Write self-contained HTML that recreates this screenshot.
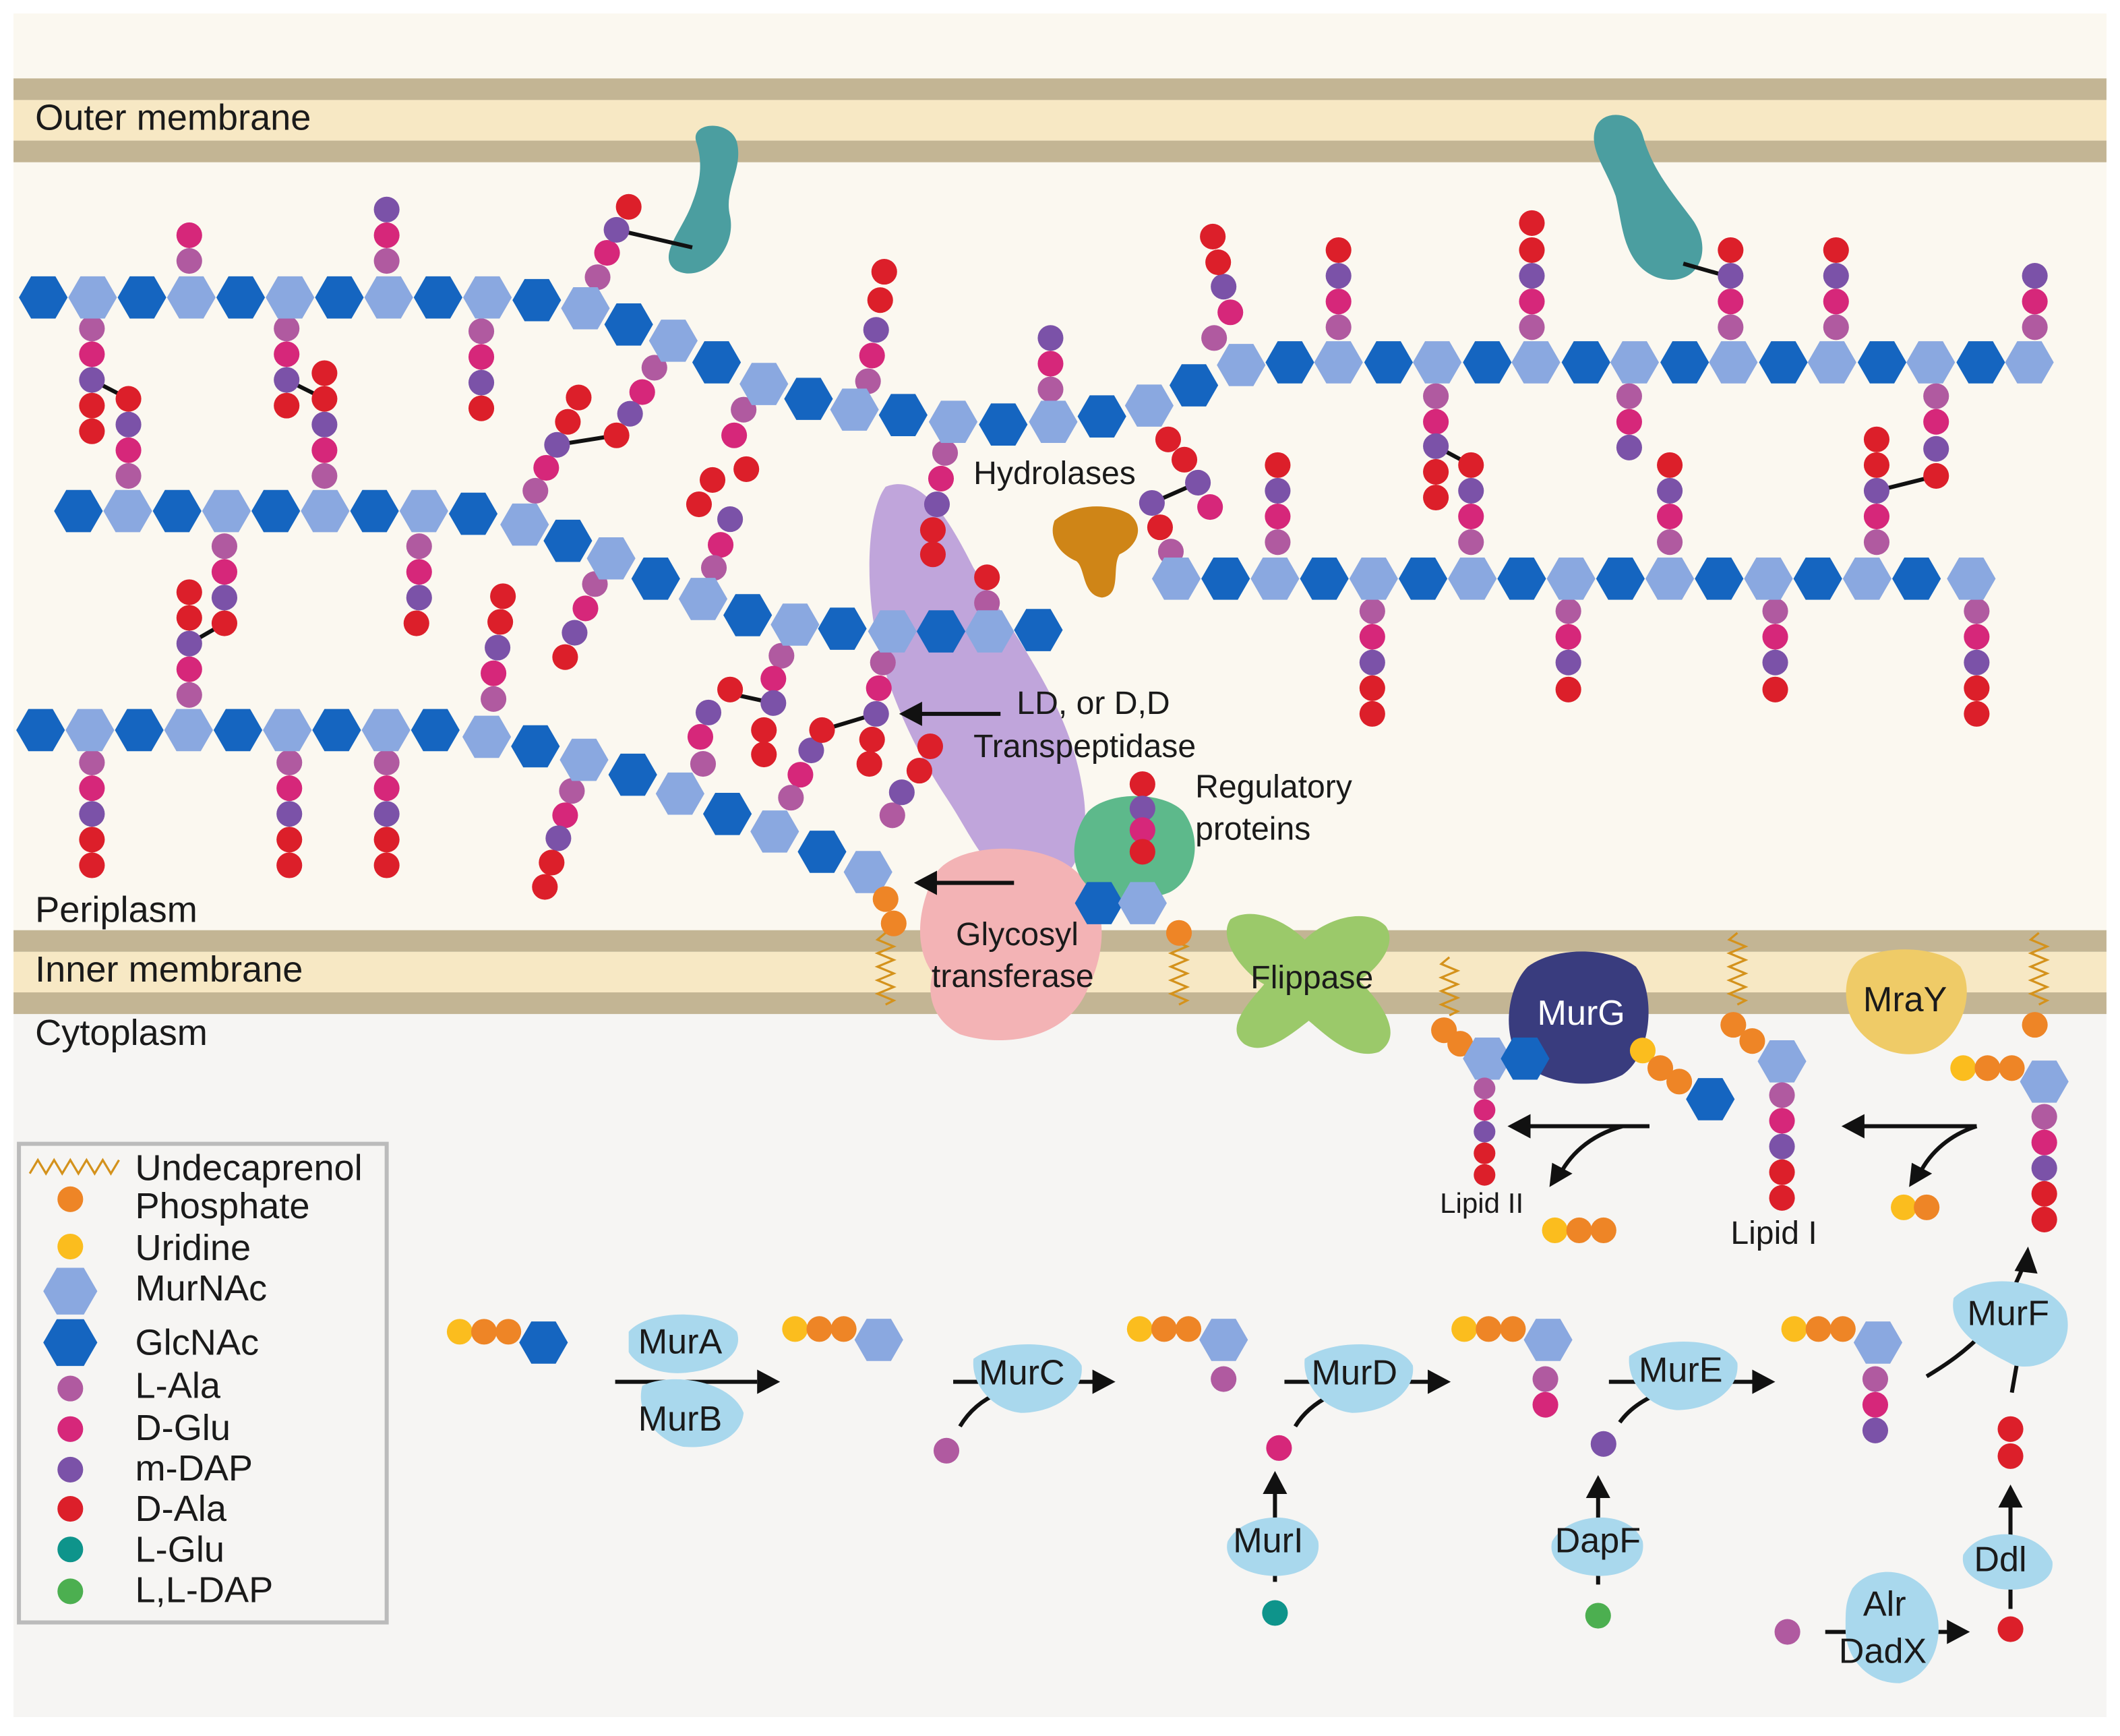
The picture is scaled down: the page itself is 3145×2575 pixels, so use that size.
<!DOCTYPE html>
<html><head><meta charset="utf-8"><style>html,body{margin:0;padding:0;background:#fff}svg{display:block}text{font-family:"Liberation Sans",sans-serif;fill:#1a1a1a}
.D{fill:#1565c0}.L{fill:#8aa8e0}.a{fill:#b05aa0}.g{fill:#d6277a}.m{fill:#7b52a8}.d{fill:#dc1f2a}.o{fill:#ee8526}.y{fill:#fbbd1e}.t{fill:#0e948b}.l{fill:#4caf50}
</style></head>
<body>
<svg width="3145" height="2575" viewBox="0 0 1568 1284" preserveAspectRatio="none" xmlns="http://www.w3.org/2000/svg" xmlns:xlink="http://www.w3.org/1999/xlink">
<defs>
<polygon id="h" points="18,0 9,15.6 -9,15.6 -18,0 -9,-15.6 9,-15.6"/>
<polygon id="h2" points="20,0 10,17.3 -10,17.3 -20,0 -10,-17.3 10,-17.3"/>
<circle id="c" r="9.5" cx="0" cy="0"/>
</defs>
<rect x="0" y="0" width="1568" height="1284" fill="#fff"/>
<rect x="10" y="10" width="1548" height="680" fill="#fbf8f0"/>
<rect x="10" y="745" width="1548" height="525" fill="#f6f5f3"/>
<rect x="10" y="58" width="1548" height="16" fill="#c3b594"/>
<rect x="10" y="74" width="1548" height="30" fill="#f7e8c4"/>
<rect x="10" y="104" width="1548" height="16" fill="#c3b594"/>
<rect x="10" y="688" width="1548" height="16" fill="#c3b594"/>
<rect x="10" y="704" width="1548" height="30" fill="#f7e8c4"/>
<rect x="10" y="734" width="1548" height="16" fill="#c3b594"/>

<!-- proteins -->
<path d="M515,105 C510,90 540,88 545,105 C550,125 535,140 540,160 C545,185 520,210 500,200 C485,190 505,170 512,150 C518,135 520,120 515,105Z" fill="#4b9ea0"/>
<path d="M1180,95 C1185,80 1210,82 1215,100 C1222,125 1235,140 1250,160 C1270,185 1255,215 1225,205 C1200,195 1200,165 1195,145 C1188,125 1175,110 1180,95Z" fill="#4b9ea0"/>
<path d="M655,360 C680,350 700,380 720,420 C750,470 790,520 800,580 C810,630 790,660 760,655 C730,650 720,620 700,590 C680,560 660,520 650,480 C640,440 640,380 655,360Z" fill="#b99bd8" opacity="0.9"/>
<path d="M690,650 C700,625 760,620 790,640 C820,660 820,700 805,730 C790,770 740,775 710,765 C690,755 685,735 690,720 C675,700 680,670 690,650Z" fill="#f3b3b5"/>
<path d="M805,600 C820,585 860,585 875,600 C890,620 885,650 865,660 C840,670 810,665 800,650 C790,635 795,612 805,600Z" fill="#5db98b"/>
<path d="M910,680 C925,670 950,680 965,695 C980,680 1010,670 1025,685 C1035,700 1015,720 1005,725 C1020,740 1040,765 1020,778 C1000,785 980,765 968,755 C955,765 935,782 920,772 C905,760 925,740 935,728 C920,720 900,695 910,680Z" fill="#9bc96a"/>
<path d="M780,385 C795,372 820,372 835,380 C848,390 840,405 828,410 C822,420 830,440 815,442 C800,440 803,420 796,415 C784,410 775,398 780,385Z" fill="#cf8517"/>
<path d="M1130,715 C1150,700 1190,700 1210,715 C1225,735 1222,780 1200,795 C1175,808 1140,800 1125,785 C1110,765 1115,730 1130,715Z" fill="#393c7e"/>
<path d="M1375,710 C1395,698 1435,700 1450,715 C1462,735 1450,770 1425,778 C1400,785 1375,770 1368,750 C1363,735 1365,718 1375,710Z" fill="#efcb67"/>

<!-- crosslinks -->
<g stroke="#111" stroke-width="3">
<line x1="68" y1="281" x2="95" y2="295"/><line x1="212" y1="281" x2="240" y2="295"/><line x1="140" y1="476" x2="166" y2="461"/>
<line x1="412" y1="329" x2="456" y2="322"/><line x1="540" y1="513" x2="572" y2="520"/><line x1="608" y1="540" x2="648" y2="528"/>
<line x1="1062" y1="330" x2="1088" y2="344"/><line x1="1388" y1="363" x2="1432" y2="352"/><line x1="456" y1="170" x2="512" y2="183"/>
<line x1="1245" y1="195" x2="1280" y2="205"/><line x1="852" y1="372" x2="886" y2="357"/>
</g>

<!-- stems -->
<g>
<use href="#c" x="68" y="243" class="a"/><use href="#c" x="68" y="262" class="g"/><use href="#c" x="68" y="281" class="m"/><use href="#c" x="68" y="300" class="d"/><use href="#c" x="68" y="319" class="d"/>
<use href="#c" x="95" y="352" class="a"/><use href="#c" x="95" y="333" class="g"/><use href="#c" x="95" y="314" class="m"/><use href="#c" x="95" y="295" class="d"/>
<use href="#c" x="212" y="243" class="a"/><use href="#c" x="212" y="262" class="g"/><use href="#c" x="212" y="281" class="m"/><use href="#c" x="212" y="300" class="d"/>
<use href="#c" x="240" y="352" class="a"/><use href="#c" x="240" y="333" class="g"/><use href="#c" x="240" y="314" class="m"/><use href="#c" x="240" y="295" class="d"/><use href="#c" x="240" y="276" class="d"/>
<use href="#c" x="356" y="245" class="a"/><use href="#c" x="356" y="264" class="g"/><use href="#c" x="356" y="283" class="m"/><use href="#c" x="356" y="302" class="d"/>
<use href="#c" x="140" y="193" class="a"/><use href="#c" x="140" y="174" class="g"/>
<use href="#c" x="286" y="193" class="a"/><use href="#c" x="286" y="174" class="g"/><use href="#c" x="286" y="155" class="m"/>
<use href="#c" x="166" y="404" class="a"/><use href="#c" x="166" y="423" class="g"/><use href="#c" x="166" y="442" class="m"/><use href="#c" x="166" y="461" class="d"/>
<use href="#c" x="310" y="404" class="a"/><use href="#c" x="310" y="423" class="g"/><use href="#c" x="310" y="442" class="m"/><use href="#c" x="308" y="461" class="d"/>
<use href="#c" x="140" y="514" class="a"/><use href="#c" x="140" y="495" class="g"/><use href="#c" x="140" y="476" class="m"/><use href="#c" x="140" y="457" class="d"/><use href="#c" x="140" y="438" class="d"/>
<use href="#c" x="365" y="517" class="a"/><use href="#c" x="365" y="498" class="g"/><use href="#c" x="368" y="479" class="m"/><use href="#c" x="370" y="460" class="d"/><use href="#c" x="372" y="441" class="d"/>
<use href="#c" x="68" y="564" class="a"/><use href="#c" x="68" y="583" class="g"/><use href="#c" x="68" y="602" class="m"/><use href="#c" x="68" y="621" class="d"/><use href="#c" x="68" y="640" class="d"/>
<use href="#c" x="214" y="564" class="a"/><use href="#c" x="214" y="583" class="g"/><use href="#c" x="214" y="602" class="m"/><use href="#c" x="214" y="621" class="d"/><use href="#c" x="214" y="640" class="d"/>
<use href="#c" x="286" y="564" class="a"/><use href="#c" x="286" y="583" class="g"/><use href="#c" x="286" y="602" class="m"/><use href="#c" x="286" y="621" class="d"/><use href="#c" x="286" y="640" class="d"/>
<use href="#c" x="442" y="205" class="a"/><use href="#c" x="449" y="187" class="g"/><use href="#c" x="456" y="170" class="m"/><use href="#c" x="465" y="153" class="d"/>
<use href="#c" x="396" y="363" class="a"/><use href="#c" x="404" y="346" class="g"/><use href="#c" x="412" y="329" class="m"/><use href="#c" x="420" y="312" class="d"/><use href="#c" x="428" y="294" class="d"/><use href="#c" x="456" y="322" class="d"/>
<use href="#c" x="484" y="272" class="a"/><use href="#c" x="475" y="290" class="g"/><use href="#c" x="466" y="306" class="m"/>
<use href="#c" x="550" y="303" class="a"/><use href="#c" x="543" y="322" class="g"/><use href="#c" x="552" y="347" class="d"/><use href="#c" x="527" y="355" class="d"/><use href="#c" x="517" y="373" class="d"/><use href="#c" x="540" y="384" class="m"/><use href="#c" x="533" y="403" class="g"/><use href="#c" x="528" y="420" class="a"/>
<use href="#c" x="642" y="282" class="a"/><use href="#c" x="645" y="263" class="g"/><use href="#c" x="648" y="244" class="m"/><use href="#c" x="651" y="222" class="d"/><use href="#c" x="654" y="201" class="d"/>
<use href="#c" x="699" y="335" class="a"/><use href="#c" x="696" y="354" class="g"/><use href="#c" x="693" y="373" class="m"/><use href="#c" x="690" y="392" class="d"/><use href="#c" x="690" y="410" class="d"/>
<use href="#c" x="777" y="288" class="a"/><use href="#c" x="777" y="269" class="g"/><use href="#c" x="777" y="250" class="m"/>
<use href="#c" x="440" y="432" class="a"/><use href="#c" x="433" y="450" class="g"/><use href="#c" x="425" y="468" class="m"/><use href="#c" x="418" y="486" class="d"/>
<use href="#c" x="578" y="485" class="a"/><use href="#c" x="572" y="502" class="g"/><use href="#c" x="572" y="520" class="m"/><use href="#c" x="540" y="510" class="d"/>
<use href="#c" x="520" y="565" class="a"/><use href="#c" x="518" y="545" class="g"/><use href="#c" x="524" y="527" class="m"/><use href="#c" x="565" y="540" class="d"/><use href="#c" x="565" y="558" class="d"/>
<use href="#c" x="653" y="490" class="a"/><use href="#c" x="650" y="509" class="g"/><use href="#c" x="648" y="528" class="m"/><use href="#c" x="645" y="547" class="d"/><use href="#c" x="643" y="565" class="d"/>
<use href="#c" x="730" y="446" class="a"/><use href="#c" x="730" y="427" class="d"/>
<use href="#c" x="423" y="585" class="a"/><use href="#c" x="418" y="603" class="g"/><use href="#c" x="413" y="620" class="m"/><use href="#c" x="408" y="638" class="d"/><use href="#c" x="403" y="656" class="d"/>
<use href="#c" x="660" y="603" class="a"/><use href="#c" x="667" y="586" class="m"/><use href="#c" x="680" y="570" class="d"/><use href="#c" x="688" y="552" class="d"/>
<use href="#c" x="600" y="555" class="m"/><use href="#c" x="592" y="573" class="g"/><use href="#c" x="585" y="590" class="a"/><use href="#c" x="608" y="540" class="d"/>
<use href="#c" x="845" y="580" class="d"/><use href="#c" x="845" y="598" class="m"/><use href="#c" x="845" y="614" class="g"/><use href="#c" x="845" y="630" class="d"/>
<use href="#c" x="898" y="250" class="a"/><use href="#c" x="910" y="231" class="g"/><use href="#c" x="905" y="212" class="m"/><use href="#c" x="901" y="194" class="d"/><use href="#c" x="897" y="175" class="d"/>
<use href="#c" x="990" y="242" class="a"/><use href="#c" x="990" y="223" class="g"/><use href="#c" x="990" y="204" class="m"/><use href="#c" x="990" y="185" class="d"/>
<use href="#c" x="1133" y="242" class="a"/><use href="#c" x="1133" y="223" class="g"/><use href="#c" x="1133" y="204" class="m"/><use href="#c" x="1133" y="185" class="d"/><use href="#c" x="1133" y="165" class="d"/>
<use href="#c" x="1280" y="242" class="a"/><use href="#c" x="1280" y="223" class="g"/><use href="#c" x="1280" y="204" class="m"/><use href="#c" x="1280" y="185" class="d"/>
<use href="#c" x="1358" y="242" class="a"/><use href="#c" x="1358" y="223" class="g"/><use href="#c" x="1358" y="204" class="m"/><use href="#c" x="1358" y="185" class="d"/>
<use href="#c" x="1505" y="242" class="a"/><use href="#c" x="1505" y="223" class="g"/><use href="#c" x="1505" y="204" class="m"/>
<use href="#c" x="1062" y="293" class="a"/><use href="#c" x="1062" y="312" class="g"/><use href="#c" x="1062" y="330" class="m"/><use href="#c" x="1062" y="349" class="d"/><use href="#c" x="1062" y="368" class="d"/>
<use href="#c" x="1205" y="293" class="a"/><use href="#c" x="1205" y="312" class="g"/><use href="#c" x="1205" y="331" class="m"/>
<use href="#c" x="1432" y="293" class="a"/><use href="#c" x="1432" y="312" class="g"/><use href="#c" x="1432" y="332" class="m"/><use href="#c" x="1432" y="352" class="d"/>
<use href="#c" x="945" y="401" class="a"/><use href="#c" x="945" y="382" class="g"/><use href="#c" x="945" y="363" class="m"/><use href="#c" x="945" y="344" class="d"/>
<use href="#c" x="1088" y="401" class="a"/><use href="#c" x="1088" y="382" class="g"/><use href="#c" x="1088" y="363" class="m"/><use href="#c" x="1088" y="344" class="d"/>
<use href="#c" x="1235" y="401" class="a"/><use href="#c" x="1235" y="382" class="g"/><use href="#c" x="1235" y="363" class="m"/><use href="#c" x="1235" y="344" class="d"/>
<use href="#c" x="1388" y="401" class="a"/><use href="#c" x="1388" y="382" class="g"/><use href="#c" x="1388" y="363" class="m"/><use href="#c" x="1388" y="344" class="d"/><use href="#c" x="1388" y="325" class="d"/>
<use href="#c" x="1015" y="452" class="a"/><use href="#c" x="1015" y="471" class="g"/><use href="#c" x="1015" y="490" class="m"/><use href="#c" x="1015" y="509" class="d"/><use href="#c" x="1015" y="528" class="d"/>
<use href="#c" x="1160" y="452" class="a"/><use href="#c" x="1160" y="471" class="g"/><use href="#c" x="1160" y="490" class="m"/><use href="#c" x="1160" y="510" class="d"/>
<use href="#c" x="1313" y="452" class="a"/><use href="#c" x="1313" y="471" class="g"/><use href="#c" x="1313" y="490" class="m"/><use href="#c" x="1313" y="510" class="d"/>
<use href="#c" x="1462" y="452" class="a"/><use href="#c" x="1462" y="471" class="g"/><use href="#c" x="1462" y="490" class="m"/><use href="#c" x="1462" y="509" class="d"/><use href="#c" x="1462" y="528" class="d"/>
<use href="#c" x="866" y="408" class="a"/><use href="#c" x="858" y="390" class="d"/><use href="#c" x="852" y="372" class="m"/><use href="#c" x="864" y="325" class="d"/><use href="#c" x="876" y="340" class="d"/><use href="#c" x="886" y="357" class="m"/><use href="#c" x="895" y="375" class="g"/>
</g>

<!-- chains -->
<g>
<use href="#h" x="32" y="220" class="D"/><use href="#h" x="68.5" y="220" class="L"/><use href="#h" x="105" y="220" class="D"/><use href="#h" x="141.5" y="220" class="L"/><use href="#h" x="178" y="220" class="D"/><use href="#h" x="214.5" y="220" class="L"/><use href="#h" x="251" y="220" class="D"/><use href="#h" x="287.5" y="220" class="L"/><use href="#h" x="324" y="220" class="D"/><use href="#h" x="360.5" y="220" class="L"/><use href="#h" x="397" y="222" class="D"/>
<use href="#h" x="433" y="228" class="L"/><use href="#h" x="465" y="240" class="D"/><use href="#h" x="498" y="252" class="L"/><use href="#h" x="530" y="268" class="D"/><use href="#h" x="565" y="284" class="L"/><use href="#h" x="598" y="295" class="D"/><use href="#h" x="632" y="303" class="L"/><use href="#h" x="668" y="307" class="D"/><use href="#h" x="705" y="312" class="L"/><use href="#h" x="742" y="314" class="D"/><use href="#h" x="779" y="312" class="L"/><use href="#h" x="815" y="308" class="D"/><use href="#h" x="850" y="300" class="L"/><use href="#h" x="883" y="285" class="D"/><use href="#h" x="918" y="270" class="L"/>
<use href="#h" x="954" y="268" class="D"/><use href="#h" x="990" y="268" class="L"/><use href="#h" x="1027" y="268" class="D"/><use href="#h" x="1063" y="268" class="L"/><use href="#h" x="1100" y="268" class="D"/><use href="#h" x="1136" y="268" class="L"/><use href="#h" x="1173" y="268" class="D"/><use href="#h" x="1209" y="268" class="L"/><use href="#h" x="1246" y="268" class="D"/><use href="#h" x="1282" y="268" class="L"/><use href="#h" x="1319" y="268" class="D"/><use href="#h" x="1355" y="268" class="L"/><use href="#h" x="1392" y="268" class="D"/><use href="#h" x="1428" y="268" class="L"/><use href="#h" x="1465" y="268" class="D"/><use href="#h" x="1501" y="268" class="L"/>

<use href="#h" x="58" y="378" class="D"/><use href="#h" x="94.5" y="378" class="L"/><use href="#h" x="131" y="378" class="D"/><use href="#h" x="167.5" y="378" class="L"/><use href="#h" x="204" y="378" class="D"/><use href="#h" x="240.5" y="378" class="L"/><use href="#h" x="277" y="378" class="D"/><use href="#h" x="313.5" y="378" class="L"/><use href="#h" x="350" y="380" class="D"/>
<use href="#h" x="388" y="388" class="L"/><use href="#h" x="420" y="400" class="D"/><use href="#h" x="452" y="413" class="L"/><use href="#h" x="485" y="428" class="D"/><use href="#h" x="520" y="443" class="L"/><use href="#h" x="553" y="455" class="D"/><use href="#h" x="588" y="462" class="L"/><use href="#h" x="623" y="465" class="D"/><use href="#h" x="660" y="467" class="L"/><use href="#h" x="696" y="467" class="D"/><use href="#h" x="732" y="467" class="L"/><use href="#h" x="768" y="466" class="D"/>

<use href="#h" x="870" y="428" class="L"/><use href="#h" x="906.5" y="428" class="D"/><use href="#h" x="943" y="428" class="L"/><use href="#h" x="979.5" y="428" class="D"/><use href="#h" x="1016" y="428" class="L"/><use href="#h" x="1052.5" y="428" class="D"/><use href="#h" x="1089" y="428" class="L"/><use href="#h" x="1125.5" y="428" class="D"/><use href="#h" x="1162" y="428" class="L"/><use href="#h" x="1198.5" y="428" class="D"/><use href="#h" x="1235" y="428" class="L"/><use href="#h" x="1271.5" y="428" class="D"/><use href="#h" x="1308" y="428" class="L"/><use href="#h" x="1344.5" y="428" class="D"/><use href="#h" x="1381" y="428" class="L"/><use href="#h" x="1417.5" y="428" class="D"/><use href="#h" x="1458" y="428" class="L"/>

<use href="#h" x="30" y="540" class="D"/><use href="#h" x="66.5" y="540" class="L"/><use href="#h" x="103" y="540" class="D"/><use href="#h" x="139.5" y="540" class="L"/><use href="#h" x="176" y="540" class="D"/><use href="#h" x="212.5" y="540" class="L"/><use href="#h" x="249" y="540" class="D"/><use href="#h" x="285.5" y="540" class="L"/><use href="#h" x="322" y="540" class="D"/>
<use href="#h" x="360" y="545" class="L"/><use href="#h" x="396" y="552" class="D"/><use href="#h" x="432" y="562" class="L"/><use href="#h" x="468" y="573" class="D"/><use href="#h" x="503" y="587" class="L"/><use href="#h" x="538" y="602" class="D"/><use href="#h" x="573" y="615" class="L"/><use href="#h" x="608" y="630" class="D"/><use href="#h" x="642" y="645" class="L"/>
</g>

<!-- lipid carriers -->
<g fill="none" stroke="#d4921c" stroke-width="1.6">
<path d="M655,690 l-6,5 l12,5 l-12,5 l12,5 l-12,5 l12,5 l-12,5 l12,5 l-12,5 l12,5 l-6,3"/>
<path d="M872,690 l-6,5 l12,5 l-12,5 l12,5 l-12,5 l12,5 l-12,5 l12,5 l-12,5 l12,5 l-6,3"/>
<path d="M1072,708 l-6,5 l12,5 l-12,5 l12,5 l-12,5 l12,5 l-12,5 l12,5 l-6,3"/>
<path d="M1285,690 l-6,5 l12,5 l-12,5 l12,5 l-12,5 l12,5 l-12,5 l12,5 l-12,5 l12,5 l-6,3"/>
<path d="M1508,690 l-6,5 l12,5 l-12,5 l12,5 l-12,5 l12,5 l-12,5 l12,5 l-12,5 l12,5 l-6,3"/>
<path d="M22,868 l6,-10 l6,10 l6,-10 l6,10 l6,-10 l6,10 l6,-10 l6,10 l6,-10 l6,10 l6,-10"/>
</g>
<g>
<use href="#c" x="655" y="665" class="o"/><use href="#c" x="661" y="683" class="o"/>
<use href="#h" x="813" y="668" class="D"/><use href="#h" x="845" y="668" class="L"/><use href="#c" x="872" y="690" class="o"/>
<use href="#c" x="1068" y="762" class="o"/><use href="#c" x="1080" y="772" class="o"/><use href="#h" x="1100" y="783" class="L"/><use href="#h" x="1128" y="783" class="D"/>
<circle cx="1098" cy="805" r="8" class="a"/><circle cx="1098" cy="821" r="8" class="g"/><circle cx="1098" cy="837" r="8" class="m"/><circle cx="1098" cy="853" r="8" class="d"/><circle cx="1098" cy="869" r="8" class="d"/>
<use href="#c" x="1215" y="777" class="y"/><use href="#c" x="1228" y="790" class="o"/><use href="#c" x="1242" y="800" class="o"/><use href="#h" x="1265" y="813" class="D"/>
<use href="#c" x="1282" y="758" class="o"/><use href="#c" x="1296" y="770" class="o"/><use href="#h" x="1318" y="785" class="L"/>
<use href="#c" x="1318" y="810" class="a"/><use href="#c" x="1318" y="829" class="g"/><use href="#c" x="1318" y="848" class="m"/><use href="#c" x="1318" y="867" class="d"/><use href="#c" x="1318" y="886" class="d"/>
<use href="#c" x="1505" y="758" class="o"/><use href="#c" x="1452" y="790" class="y"/><use href="#c" x="1470" y="790" class="o"/><use href="#c" x="1488" y="790" class="o"/><use href="#h" x="1512" y="800" class="L"/>
<use href="#c" x="1512" y="826" class="a"/><use href="#c" x="1512" y="845" class="g"/><use href="#c" x="1512" y="864" class="m"/><use href="#c" x="1512" y="883" class="d"/><use href="#c" x="1512" y="902" class="d"/>
<use href="#c" x="1150" y="910" class="y"/><use href="#c" x="1168" y="910" class="o"/><use href="#c" x="1186" y="910" class="o"/><use href="#c" x="1408" y="893" class="y"/><use href="#c" x="1425" y="893" class="o"/>
</g>

<!-- arrows -->
<g stroke="#111" stroke-width="3" fill="none">
<line x1="740" y1="528" x2="675" y2="528"/><line x1="750" y1="653" x2="688" y2="653"/>
<line x1="1220" y1="833" x2="1128" y2="833"/><path d="M1200,833 C1175,840 1160,855 1152,872"/>
<line x1="1462" y1="833" x2="1375" y2="833"/><path d="M1462,833 C1440,840 1425,855 1418,872"/>
<line x1="455" y1="1022" x2="560" y2="1022"/>
<line x1="705" y1="1022" x2="810" y2="1022"/><path d="M710,1055 C725,1030 750,1025 775,1022"/>
<line x1="950" y1="1022" x2="1058" y2="1022"/><path d="M958,1055 C970,1035 995,1025 1020,1022"/>
<line x1="1190" y1="1022" x2="1298" y2="1022"/><path d="M1198,1052 C1210,1035 1235,1025 1260,1022"/>
<path d="M1425,1018 C1455,1000 1480,980 1497,935"/><line x1="1488" y1="1030" x2="1495" y2="990"/>
<line x1="943" y1="1170" x2="943" y2="1100"/><line x1="1182" y1="1172" x2="1182" y2="1103"/>
<line x1="1487" y1="1190" x2="1487" y2="1110"/><line x1="1350" y1="1207" x2="1442" y2="1207"/>
</g>
<g fill="#111">
<polygon points="665,528 682,519 682,537"/><polygon points="676,653 693,644 693,662"/>
<polygon points="1115,833 1132,824 1132,842"/><polygon points="1362,833 1379,824 1379,842"/>
<polygon points="1146,878 1148,860 1163,868"/><polygon points="1412,878 1414,860 1429,868"/>
<polygon points="577,1022 560,1013 560,1031"/><polygon points="825,1022 808,1013 808,1031"/>
<polygon points="1073,1022 1056,1013 1056,1031"/><polygon points="1313,1022 1296,1013 1296,1031"/>
<polygon points="1500,922 1490,940 1507,942"/>
<polygon points="943,1088 934,1105 952,1105"/><polygon points="1182,1091 1173,1108 1191,1108"/>
<polygon points="1487,1098 1478,1115 1496,1115"/><polygon points="1457,1207 1440,1198 1440,1216"/>
</g>
<g fill="#a9d8ed">
<path d="M465,985 C480,968 530,968 545,985 C550,1000 535,1012 510,1015 C490,1018 470,1010 465,1000Z"/>
<path d="M475,1025 C495,1015 540,1020 550,1045 C548,1065 525,1072 505,1070 C485,1065 470,1045 475,1025Z"/>
<path d="M720,1005 C740,990 790,990 800,1010 C802,1030 780,1045 755,1045 C735,1043 718,1025 720,1005Z"/>
<path d="M965,1005 C985,990 1035,990 1045,1010 C1047,1030 1025,1045 1000,1045 C980,1043 963,1025 965,1005Z"/>
<path d="M1205,1003 C1225,988 1275,988 1285,1008 C1287,1028 1265,1043 1240,1043 C1220,1041 1203,1023 1205,1003Z"/>
<path d="M1445,960 C1465,940 1515,945 1528,970 C1535,995 1515,1015 1490,1010 C1470,1000 1440,985 1445,960Z"/>
<path d="M908,1140 C920,1118 965,1115 975,1140 C978,1160 955,1168 935,1165 C915,1162 905,1152 908,1140Z"/>
<path d="M1148,1140 C1160,1118 1205,1115 1215,1140 C1218,1160 1195,1168 1175,1165 C1155,1162 1145,1152 1148,1140Z"/>
<path d="M1452,1150 C1465,1128 1508,1130 1518,1155 C1520,1172 1495,1178 1478,1175 C1460,1170 1450,1162 1452,1150Z"/>
<path d="M1370,1175 C1385,1155 1420,1160 1430,1185 C1440,1210 1430,1240 1405,1245 C1380,1245 1365,1225 1365,1205 C1365,1190 1365,1185 1370,1175Z"/>
</g>

<!-- pathway intermediates -->
<g>
<use href="#c" x="340" y="985" class="y"/><use href="#c" x="358" y="985" class="o"/><use href="#c" x="376" y="985" class="o"/><use href="#h" x="402" y="993" class="D"/>
<use href="#c" x="588" y="983" class="y"/><use href="#c" x="606" y="983" class="o"/><use href="#c" x="624" y="983" class="o"/><use href="#h" x="650" y="991" class="L"/>
<use href="#c" x="843" y="983" class="y"/><use href="#c" x="861" y="983" class="o"/><use href="#c" x="879" y="983" class="o"/><use href="#h" x="905" y="991" class="L"/>
<use href="#c" x="1083" y="983" class="y"/><use href="#c" x="1101" y="983" class="o"/><use href="#c" x="1119" y="983" class="o"/><use href="#h" x="1145" y="991" class="L"/>
<use href="#c" x="1327" y="983" class="y"/><use href="#c" x="1345" y="983" class="o"/><use href="#c" x="1363" y="983" class="o"/><use href="#h" x="1389" y="993" class="L"/>
<use href="#c" x="905" y="1020" class="a"/>
<use href="#c" x="1143" y="1020" class="a"/><use href="#c" x="1143" y="1039" class="g"/>
<use href="#c" x="1387" y="1020" class="a"/><use href="#c" x="1387" y="1039" class="g"/><use href="#c" x="1387" y="1058" class="m"/>
<use href="#c" x="700" y="1073" class="a"/><use href="#c" x="946" y="1071" class="g"/><use href="#c" x="943" y="1193" class="t"/><use href="#c" x="1186" y="1068" class="m"/><use href="#c" x="1182" y="1195" class="l"/>
<use href="#c" x="1487" y="1057" class="d"/><use href="#c" x="1487" y="1077" class="d"/><use href="#c" x="1487" y="1205" class="d"/><use href="#c" x="1322" y="1207" class="a"/>
</g>

<!-- legend -->
<rect x="14" y="846" width="272" height="354" fill="none" stroke="#bbb" stroke-width="3"/>
<g>
<use href="#c" x="52" y="887" class="o"/><use href="#c" x="52" y="922" class="y"/><use href="#h2" x="52" y="955" class="L"/><use href="#h2" x="52" y="993" class="D"/>
<use href="#c" x="52" y="1027" class="a"/><use href="#c" x="52" y="1057" class="g"/><use href="#c" x="52" y="1087" class="m"/><use href="#c" x="52" y="1116" class="d"/><use href="#c" x="52" y="1146" class="t"/><use href="#c" x="52" y="1177" class="l"/>
</g>
<g font-size="27">
<text x="26" y="96">Outer membrane</text>
<text x="26" y="682">Periplasm</text>
<text x="26" y="726">Inner membrane</text>
<text x="26" y="773">Cytoplasm</text>
</g>
<g font-size="24">
<text x="720" y="358">Hydrolases</text>
<text x="752" y="528">LD, or D,D</text>
<text x="720" y="560">Transpeptidase</text>
<text x="884" y="590">Regulatory</text>
<text x="884" y="621">proteins</text>
<text x="707" y="699">Glycosyl</text>
<text x="689" y="730">transferase</text>
<text x="925" y="731">Flippase</text>
<text x="1065" y="897" font-size="21">Lipid II</text>
<text x="1280" y="920">Lipid I</text>
</g>
<g font-size="26">
<text x="472" y="1001">MurA</text>
<text x="472" y="1058">MurB</text>
<text x="724" y="1024">MurC</text>
<text x="970" y="1024">MurD</text>
<text x="1212" y="1022">MurE</text>
<text x="1455" y="980">MurF</text>
<text x="912" y="1148">MurI</text>
<text x="1150" y="1148">DapF</text>
<text x="1460" y="1162">Ddl</text>
<text x="1378" y="1195">Alr</text>
<text x="1360" y="1230">DadX</text>
</g>
<text x="1137" y="758" font-size="26" style="fill:#fff">MurG</text>
<text x="1378" y="748" font-size="26">MraY</text>
<g font-size="27">
<text x="100" y="873">Undecaprenol</text>
<text x="100" y="901">Phosphate</text>
<text x="100" y="932">Uridine</text>
<text x="100" y="962">MurNAc</text>
<text x="100" y="1002">GlcNAc</text>
<text x="100" y="1034">L-Ala</text>
<text x="100" y="1065">D-Glu</text>
<text x="100" y="1095">m-DAP</text>
<text x="100" y="1125">D-Ala</text>
<text x="100" y="1155">L-Glu</text>
<text x="100" y="1185">L,L-DAP</text>
</g>
</svg>
</body></html>
